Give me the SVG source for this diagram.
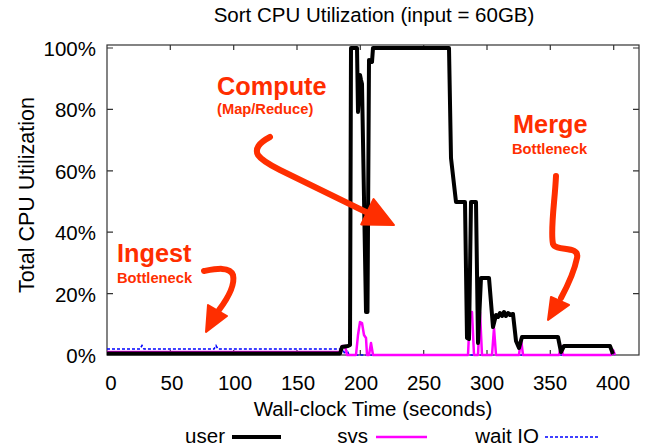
<svg xmlns="http://www.w3.org/2000/svg" width="646" height="448" viewBox="0 0 646 448">
  <style>
    .lbl { font-family: "Liberation Sans", Arial, sans-serif; font-size: 20.5px; fill: #000; }
    .ytick { text-anchor: end; }
    .xtick { text-anchor: middle; }
    .note { font-family: "Liberation Sans", Arial, sans-serif; font-weight: bold; fill: #ff2e00; }
    .big { font-size: 25.3px; }
    .small { font-size: 14.7px; }
    .frame { fill: none; stroke: #333; stroke-width: 1.2; }
    .tick { stroke: #333; stroke-width: 1.2; }
    .user { fill: none; stroke: #000; stroke-width: 4; stroke-linejoin: round; }
    .sys { fill: none; stroke: #ff00ff; stroke-width: 2.5; stroke-linejoin: round; }
    .wait { fill: none; stroke: #0000ff; stroke-width: 1.6; stroke-dasharray: 3 2; }
    .arrow { fill: none; stroke: #ff2e00; stroke-width: 6; stroke-linecap: round; stroke-linejoin: round; }
    .head { fill: #ff2e00; stroke: #ff2e00; stroke-width: 2; stroke-linejoin: round; }
  </style>

  <!-- title -->
  <text id="title" class="lbl xtick" x="374" y="22">Sort CPU Utilization (input = 60GB)</text>

  <!-- axes -->
  <g id="axes">
    <rect class="frame" x="107" y="45" width="532" height="310"/>
    <!-- y ticks every 20% -->
    <path class="tick" d="M107,293.6h6M107,232.2h6M107,170.8h6M107,109.4h6M107,48h6
                          M639,293.6h-6M639,232.2h-6M639,170.8h-6M639,109.4h-6M639,48h-6"/>
    <!-- x ticks every 50 s -->
    <path class="tick" d="M170.3,355v-5M233.7,355v-5M297,355v-5M360.3,355v-5M423.7,355v-5M487,355v-5M550.3,355v-5M613.7,355v-5
                          M170.3,45v5M233.7,45v5M297,45v5M360.3,45v5M423.7,45v5M487,45v5M550.3,45v5M613.7,45v5"/>
    <g class="lbl ytick">
      <text x="96" y="363">0%</text>
      <text x="96" y="301.6">20%</text>
      <text x="96" y="240.2">40%</text>
      <text x="96" y="178.8">60%</text>
      <text x="96" y="117.4">80%</text>
      <text x="96" y="56">100%</text>
    </g>
    <g class="lbl xtick">
      <text x="111" y="390">0</text>
      <text x="172" y="390">50</text>
      <text x="235" y="390">100</text>
      <text x="298" y="390">150</text>
      <text x="361" y="390">200</text>
      <text x="424" y="390">250</text>
      <text x="487" y="390">300</text>
      <text x="550" y="390">350</text>
      <text x="613" y="390">400</text>
    </g>
    <text class="lbl xtick" x="373" y="416">Wall-clock Time (seconds)</text>
    <text class="lbl xtick" style="font-size:21.5px" transform="translate(34,195) rotate(-90)">Total CPU Utilization</text>
  </g>

  <!-- data series -->
  <g id="series">
    <polyline id="wait-io" class="wait" points="107,349 140,349 142,345.5 144,349 214,349 216,345.5 218,349 340,349 343,350 345,354 347,350 349,355 611,355 613,352 615,355"/>
    <polyline id="sys" class="sys" points="107,352 340,352 342,346 345,346 347,355 356,355 358,335 360,322 362,323 364,335 366,338 367,355 369,355 371,343 373,355 468,355 470,312 472,312 474,355 478,355 480,312 482,355 492,355 494,328 496,355 519,355 521,339 523,355 559,355 561,346 563,355 611,355 613,350 615,355"/>
    <polyline id="user" class="user" points="107,353.5 340,353.5 342,347 348,346 350,345 351,48 357,48 358,112 360,75 361,80 362,84 366,312 367.5,312 369,60 372,62 373,48 449,48 451,158 456,202 465,202 467,338 469,339 471,202 476,202 478,343 481,278 489,278 493,327 496,315 498,317 500,313 502,316 504,312 506,316 508,313 510,315 513,314 516,341 519,348 522,337 558,337 561,352 564,346 610,346 613,354"/>
  </g>

  <!-- annotations -->
  <g id="note-compute">
    <text class="note big" x="217" y="95">Compute</text>
    <text class="note small" x="217" y="114">(Map/Reduce)</text>
    <path class="arrow" d="M270,137 Q253,146 258,155 Q262,161 280,170 L368,213"/>
    <polygon class="head" points="394,225 373.6,199 361.2,224.4"/>
  </g>
  <g id="note-ingest">
    <text class="note big" x="117" y="262">Ingest</text>
    <text class="note small" x="117" y="283">Bottleneck</text>
    <path class="arrow" d="M204,271 C215,269 230,266 233,275 C235,284 228,298 219,310"/>
    <polygon class="head" points="206,332 208,305 227,316"/>
  </g>
  <g id="note-merge">
    <text class="note big" x="513" y="133">Merge</text>
    <text class="note small" x="512" y="154">Bottleneck</text>
    <path class="arrow" d="M556,176 C555,200 550,230 553,244 C556,252 580,245 577,258 C575,268 568,285 561,298"/>
    <polygon class="head" points="548,320 551,297 569,305"/>
  </g>

  <!-- legend -->
  <g id="legend">
    <text class="lbl" x="225" y="443" text-anchor="end">user</text>
    <line x1="232" y1="437" x2="281" y2="437" stroke="#000" stroke-width="4"/>
    <text class="lbl" x="368" y="443" text-anchor="end">svs</text>
    <line x1="376" y1="437" x2="427" y2="437" stroke="#ff00ff" stroke-width="2.5"/>
    <text class="lbl" x="539" y="443" text-anchor="end">wait IO</text>
    <line class="wait" x1="545" y1="437" x2="598" y2="437"/>
  </g>
</svg>
